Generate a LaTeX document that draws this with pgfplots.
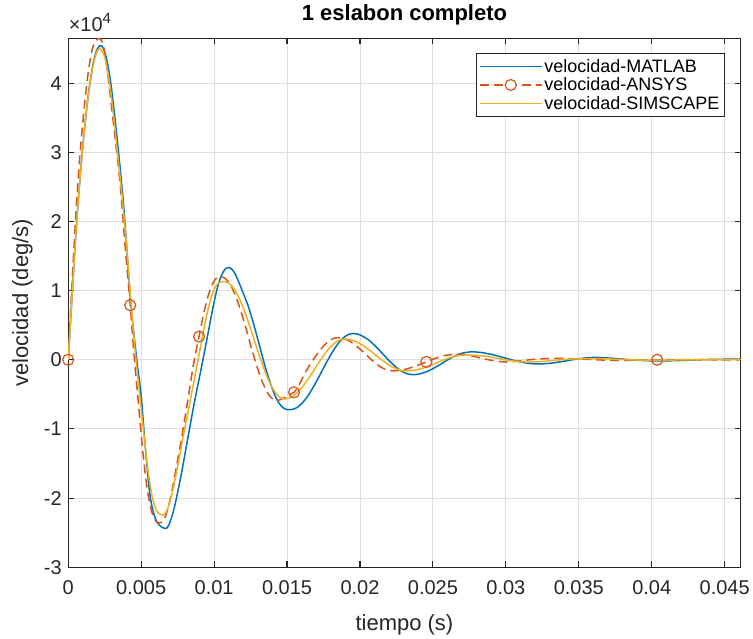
\documentclass[border=0pt]{standalone}
\usepackage{pgfplots}
\pgfplotsset{compat=1.18}
\usepackage{fontspec}
\setmainfont{Liberation Sans}

\definecolor{mblue}{RGB}{0,114,189}
\definecolor{mred}{RGB}{217,83,25}
\definecolor{myellow}{RGB}{237,177,32}
\definecolor{axcol}{RGB}{38,38,38}

\begin{document}
\begin{tikzpicture}
\begin{axis}[
  scale only axis,
  width=673.4pt, height=529.7pt,
  xmin=0, xmax=0.0461,
  ymin=-30000, ymax=46500,
  xtick={0,0.005,...,0.045},
  ytick={-30000,-20000,...,40000},
  scaled x ticks=false,
  scaled y ticks=base 10:-4,
  ytick scale label code/.code={×10\raisebox{0.42em}{\fontsize{15}{18}\selectfont #1}},
  every y tick scale label/.style={at={(0,1)}, anchor=base west, inner sep=0pt,
    xshift=3.4pt, yshift=6.6pt, font=\fontsize{20}{24}\selectfont, text=axcol},
  /pgf/number format/assume math mode=true,
  xticklabel style={/pgf/number format/fixed, /pgf/number format/precision=3, yshift=-10pt},
  yticklabel style={xshift=-3pt},
  ticklabel style={font=\fontsize{20}{24}\selectfont, text=axcol},
  tick align=inside,
  major tick length=6pt,
  every tick/.style={axcol, line width=1.1pt},
  axis line style={axcol, line width=1.1pt},
  grid=major,
  major grid style={black!13, line width=0.9pt},
  title={1 eslabon completo},
  title style={at={(0.5,1)}, anchor=base, yshift=11.6pt, font=\fontsize{22}{26}\selectfont\bfseries},
  xlabel={tiempo (s)},
  every axis x label/.style={at={(0.5,0)}, anchor=center, yshift=-57.5pt,
    font=\fontsize{22}{26}\selectfont, text=axcol},
  ylabel={velocidad (deg/s)},
  every axis y label/.style={at={(0,0.5)}, xshift=-45.7pt, rotate=90, anchor=center,
    font=\fontsize{22}{26}\selectfont, text=axcol},
  legend style={at={(1,1)}, anchor=north east, xshift=-16pt, yshift=-15pt,
    draw=axcol, line width=1pt, fill=white,
    font=\fontsize{18}{21}\selectfont, text=black,
    inner xsep=3pt, inner ysep=3.5pt, row sep=0pt},
  legend cell align=left,
]
\addplot[mblue, line width=1.5pt, smooth, tension=0.5,
  legend image code/.code={\fill[fill=mblue, draw=none] (0pt,-0.8pt) rectangle (62pt,0.8pt);}] coordinates {
(0,0) (0.0002,7000) (0.0004,14000) (0.0006,20500) (0.0008,26000) (0.0011,33000)
(0.0014,38700) (0.0017,42700) (0.002,45000) (0.0023,45400) (0.0026,43800)
(0.0029,40300) (0.0032,35000) (0.0035,29000) (0.0038,22300) (0.004,16600)
(0.0043,7900) (0.0047,0) (0.005,-5200) (0.0053,-13000) (0.0056,-19500)
(0.0059,-22500) (0.0062,-23800) (0.0065,-24300) (0.0067,-24400) (0.0069,-23900)
(0.0072,-22000) (0.0075,-19200) (0.0078,-16000) (0.0081,-12500) (0.0084,-9000)
(0.0087,-5600) (0.009,-2500) (0.0093,700) (0.0096,4000) (0.0099,7300)
(0.0102,10200) (0.0105,12200) (0.0108,13200) (0.0111,13300) (0.0114,12600)
(0.0117,11200) (0.012,9600) (0.0123,8000) (0.0126,6000) (0.0129,3700)
(0.0132,1400) (0.0135,-1000) (0.0138,-3000) (0.0141,-4800) (0.0144,-6100)
(0.0147,-6900) (0.015,-7200) (0.0153,-7200) (0.0156,-7000) (0.0159,-6550)
(0.0162,-5870) (0.0165,-4990) (0.0168,-3950) (0.0171,-2800) (0.0174,-1600)
(0.0177,-400) (0.018,730) (0.0183,1750) (0.0186,2600) (0.0189,3240)
(0.0192,3650) (0.01952,3800) (0.0198,3740) (0.0201,3500) (0.0204,3150)
(0.0207,2680) (0.021,2090) (0.0213,1450) (0.0216,770) (0.0219,90)
(0.0222,-550) (0.0225,-1110) (0.0228,-1570) (0.0231,-1910) (0.0234,-2110)
(0.02363,-2150) (0.024,-2080) (0.0245,-1780) (0.025,-1280) (0.0255,-670)
(0.026,-30) (0.0265,540) (0.027,950) (0.02763,1150) (0.0282,1080)
(0.0288,880) (0.0294,580) (0.03,220) (0.0306,-120) (0.0312,-400)
(0.0318,-565) (0.0322,-600) (0.0328,-550) (0.0334,-405) (0.034,-200)
(0.0346,20) (0.0352,210) (0.0358,325) (0.0362,350) (0.037,260)
(0.038,100) (0.039,-60) (0.04,-150) (0.041,-150) (0.042,-100)
(0.043,-20) (0.044,50) (0.045,80) (0.0461,80)
};
\addlegendentry{velocidad-MATLAB}
\addplot[mred, line width=1.5pt, smooth, tension=0.5, dash pattern=on 9pt off 5pt,
  mark=o, mark size=5.5pt, mark options={solid, line width=1.2pt},
  mark indices={1,16,32,52,80,106},
  legend image code/.code={
    \draw[draw=mred, line width=1.5pt, dash pattern=on 9pt off 5pt] (0pt,0pt) -- (62pt,0pt);
    \draw[draw=mred, line width=1.2pt, solid, fill=white] (31pt,0pt) circle[radius=5.5pt];}] coordinates {
(0,0) (0.0002,8500) (0.0004,16500) (0.0006,23500) (0.0008,29500) (0.0011,36500)
(0.0014,42000) (0.0017,45300) (0.0021,46500) (0.0024,45500) (0.0027,41500)
(0.003,36000) (0.0033,30500) (0.0036,24500) (0.0039,16500) (0.00425,7900)
(0.0045,1000) (0.0048,-6000) (0.0051,-13000) (0.0054,-18500) (0.0057,-21800)
(0.006,-23300) (0.0062,-23600) (0.0064,-23500) (0.0066,-23000) (0.0069,-21000)
(0.0072,-18000) (0.0075,-14500) (0.0078,-11000) (0.0082,-5800) (0.0086,-500)
(0.00897,3360) (0.0093,6800) (0.0096,9300) (0.0099,11000) (0.0102,11900)
(0.0105,12000) (0.0108,11700) (0.0111,10900) (0.0114,9600) (0.0117,7900)
(0.012,5900) (0.0123,3700) (0.0126,1400) (0.0129,-700) (0.0132,-2600)
(0.0135,-4100) (0.0138,-5200) (0.0141,-5800) (0.01427,-5900) (0.0145,-5800)
(0.01548,-4700) (0.0158,-3700) (0.0161,-2500) (0.0164,-1300) (0.0167,-300)
(0.017,650) (0.0173,1500) (0.0176,2200) (0.0179,2750) (0.0182,3100)
(0.0185,3200) (0.0188,3120) (0.0191,2900) (0.0194,2550) (0.0197,2100)
(0.02,1560) (0.0203,970) (0.0206,370) (0.0209,-200) (0.0212,-720)
(0.0215,-1130) (0.0218,-1430) (0.02226,-1600) (0.0226,-1560) (0.023,-1430)
(0.0234,-1200) (0.0238,-930) (0.0242,-600) (0.02455,-300) (0.025,80)
(0.0254,370) (0.0258,600) (0.0262,750) (0.0266,800) (0.027,760)
(0.0275,620) (0.028,400) (0.0285,150) (0.029,-80) (0.0295,-240)
(0.03,-300) (0.0305,-260) (0.031,-150) (0.0315,-30) (0.032,80)
(0.0325,150) (0.033,190) (0.0335,200) (0.0341,200) (0.035,120)
(0.036,20) (0.037,-60) (0.038,-80) (0.039,-40) (0.04037,0)
(0.0415,30) (0.043,30) (0.0445,0) (0.0461,0)
};
\addlegendentry{velocidad-ANSYS}
\addplot[myellow, line width=1.5pt, smooth, tension=0.5,
  legend image code/.code={\fill[fill=myellow, draw=none] (0pt,-0.8pt) rectangle (62pt,0.8pt);}] coordinates {
(0,0) (0.0002,7000) (0.0004,14000) (0.0006,20500) (0.0008,26000) (0.0011,33000)
(0.0014,38500) (0.0017,42500) (0.002,44700) (0.0022,44900) (0.0025,43800)
(0.0028,40500) (0.0031,35500) (0.0034,29500) (0.0037,23500) (0.004,16500)
(0.0043,8500) (0.0046,1000) (0.0049,-5000) (0.0052,-11000) (0.0055,-16500)
(0.0058,-20200) (0.0061,-22000) (0.0064,-22400) (0.0066,-22400) (0.0068,-21600)
(0.0071,-19500) (0.0074,-16500) (0.0077,-13200) (0.008,-9800) (0.0083,-6600)
(0.0086,-3300) (0.0089,0) (0.0092,3400) (0.0095,6500) (0.0098,9000)
(0.0101,10600) (0.0104,11200) (0.01073,11300) (0.011,11090) (0.0113,10450)
(0.0116,9410) (0.0119,8030) (0.0122,6370) (0.0125,4520) (0.0128,2580)
(0.0131,650) (0.0134,-1160) (0.0137,-2770) (0.014,-4060) (0.0143,-5010)
(0.0146,-5540) (0.01484,-5650) (0.0151,-5565) (0.0154,-5260) (0.0157,-4750)
(0.016,-4060) (0.0163,-3230) (0.0166,-2300) (0.0169,-1310) (0.0172,-330)
(0.0175,590) (0.0178,1420) (0.0181,2110) (0.0184,2620) (0.0187,2920)
(0.01895,3000) (0.0193,2920) (0.0197,2650) (0.0201,2210) (0.0205,1640)
(0.0209,980) (0.0213,300) (0.0217,-340) (0.0221,-900) (0.0225,-1310)
(0.0229,-1550) (0.02318,-1600) (0.0236,-1540) (0.024,-1380) (0.0244,-1130)
(0.0248,-830) (0.0252,-480) (0.0256,-130) (0.026,190) (0.0264,440)
(0.0268,620) (0.02729,700) (0.028,650) (0.0288,450) (0.0296,150)
(0.0304,-150) (0.031,-280) (0.0316,-330) (0.0322,-280) (0.033,-150)
(0.034,50) (0.035,150) (0.036,180) (0.037,130) (0.038,40)
(0.039,-30) (0.0405,-60) (0.042,-20) (0.044,20) (0.0461,30)
};
\addlegendentry{velocidad-SIMSCAPE}
\end{axis}
\path ([shift={(-68.3pt,-71pt)}]current axis.south west)
  rectangle ([shift={(11.3pt,38.3pt)}]current axis.north east);
\end{tikzpicture}
\end{document}
